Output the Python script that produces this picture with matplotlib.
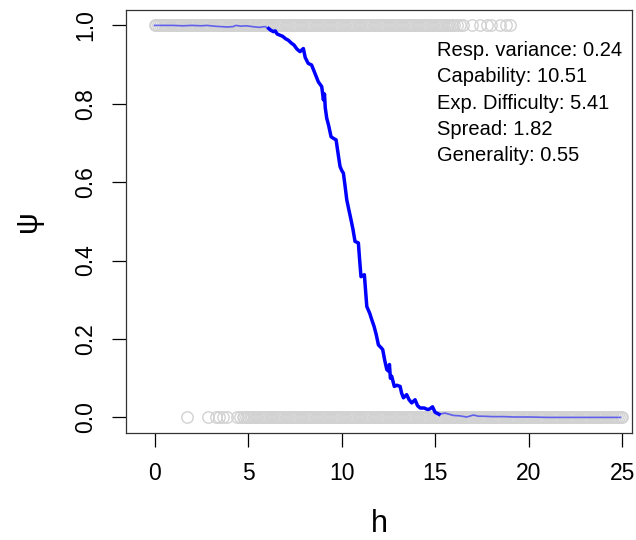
import matplotlib
matplotlib.use('Agg')
import matplotlib.pyplot as plt

plt.rcParams['font.family'] = ['Liberation Sans', 'DejaVu Sans']

# smoothed response curve
curve_x = [0.0, 0.5, 1.0, 1.5, 2.0, 2.5, 2.8, 3.2, 3.5, 3.9, 4.2, 4.35, 4.6, 4.9, 5.2, 5.6, 5.9, 6.1,
           6.2, 6.35, 6.45, 6.55, 6.7, 6.85, 7.0, 7.15, 7.33, 7.45, 7.6, 7.77, 7.95, 8.05, 8.21, 8.39,
           8.55, 8.75, 8.93, 8.97, 9.02, 9.08, 9.12, 9.2, 9.3, 9.43, 9.55, 9.7, 9.8, 9.91, 10.0, 10.09,
           10.18, 10.27, 10.38, 10.48, 10.6, 10.71, 10.89, 10.96, 11.03, 11.21, 11.28, 11.34, 11.5, 11.6,
           11.73, 11.85, 11.96, 12.1, 12.19, 12.3, 12.41, 12.5, 12.55, 12.6, 12.67, 12.81, 12.95, 13.12,
           13.2, 13.3, 13.47, 13.6, 13.74, 13.92, 14.05, 14.19, 14.4, 14.6, 14.72, 14.85, 14.99,
           15.2, 15.52, 15.97, 16.3, 16.68, 17.04, 17.3, 17.57, 18.0, 18.64, 19.2, 20.0, 21.0, 22.0,
           23.0, 24.0, 24.9]
curve_y = [1.0, 1.0, 1.0, 0.999, 1.0, 0.999, 1.0, 0.998, 0.997, 0.996, 0.997, 1.0, 0.998, 0.999, 0.997,
           0.995, 0.997, 0.992,
           0.988, 0.984, 0.986, 0.978, 0.975, 0.972, 0.966, 0.962, 0.954, 0.95, 0.94, 0.933, 0.941, 0.918,
           0.903, 0.899, 0.88, 0.856, 0.844, 0.83, 0.81, 0.825, 0.79, 0.763, 0.745, 0.716, 0.712, 0.708,
           0.675, 0.64, 0.63, 0.623, 0.59, 0.555, 0.53, 0.508, 0.48, 0.449, 0.445, 0.4, 0.359, 0.364,
           0.32, 0.283, 0.265, 0.25, 0.232, 0.21, 0.185, 0.178, 0.173, 0.145, 0.122, 0.118, 0.135, 0.1,
           0.105, 0.079, 0.082, 0.079, 0.062, 0.05, 0.058, 0.045, 0.037, 0.045, 0.03, 0.024, 0.024, 0.02,
           0.022, 0.027, 0.013,
           0.008, 0.011, 0.005, 0.004, 0.001, 0.006, 0.003, 0.003, 0.002, 0.002, 0.001, 0.001, 0.0, 0.0,
           0.0, 0.0, 0.0]
thick_from, thick_to = 17, 91  # index range drawn with the heavy line

# observed items: h of the successes (psi = 1) and failures (psi = 0)
h_ones = [0.0, 0.1, 0.2, 0.3, 0.4, 0.5, 0.6, 0.7, 0.8, 0.9,
          1.0, 1.1, 1.2, 1.3, 1.4, 1.5, 1.6, 1.7, 1.8, 1.9,
          2.0, 2.1, 2.2, 2.3, 2.4, 2.5, 2.6, 2.7, 2.8, 2.9,
          3.0, 3.1, 3.2, 3.3, 3.4, 3.5, 3.6, 3.7, 3.8, 3.9,
          4.0, 4.1, 4.2, 4.3, 4.4, 4.5, 4.6, 4.7, 4.8, 4.9,
          5.0, 5.1, 5.2, 5.3, 5.4, 5.5, 5.6, 5.7, 5.8, 5.9,
          6.0, 6.1, 6.2, 6.3, 6.4, 6.5, 6.6, 6.7, 6.8, 6.9,
          7.0, 7.1, 7.2, 7.3, 7.4, 7.5, 7.6, 7.7, 7.8, 7.9,
          8.0, 8.1, 8.2, 8.3, 8.4, 8.5, 8.6, 8.7, 8.8, 8.9,
          9.0, 9.1, 9.2, 9.3, 9.4, 9.5, 9.6, 9.7, 9.8, 9.9,
          10.0, 10.1, 10.2, 10.3, 10.4, 10.5, 10.6, 10.7, 10.8, 10.9,
          11.0, 11.1, 11.2, 11.3, 11.4, 11.5, 11.6, 11.7, 11.8, 11.9,
          12.0, 12.1, 12.2, 12.3, 12.4, 12.5, 12.6, 12.7, 12.8, 12.9,
          13.0, 13.1, 13.2, 13.3, 13.4, 13.5, 13.6, 13.7, 13.8, 13.9,
          14.0, 14.1, 14.2, 14.3, 14.4, 14.5, 14.6, 14.7, 14.8, 14.9,
          15.0, 15.1, 15.2, 15.3, 15.4, 15.5, 15.6, 15.7, 15.8, 15.9,
          16.0, 16.15, 16.3,
          16.5, 16.95, 17.4, 17.75, 18.0, 18.46, 18.8, 19.0]
h_zeros = [1.71, 2.83, 3.26, 3.44, 3.67, 3.88, 4.38, 4.56,
           4.7, 4.8, 4.9,
           5.0, 5.1, 5.2, 5.3, 5.4, 5.5, 5.6, 5.7, 5.8, 5.9,
           6.0, 6.1, 6.2, 6.3, 6.4, 6.5, 6.6, 6.7, 6.8, 6.9,
           7.0, 7.1, 7.2, 7.3, 7.4, 7.5, 7.6, 7.7, 7.8, 7.9,
           8.0, 8.1, 8.2, 8.3, 8.4, 8.5, 8.6, 8.7, 8.8, 8.9,
           9.0, 9.1, 9.2, 9.3, 9.4, 9.5, 9.6, 9.7, 9.8, 9.9,
           10.0, 10.1, 10.2, 10.3, 10.4, 10.5, 10.6, 10.7, 10.8, 10.9,
           11.0, 11.1, 11.2, 11.3, 11.4, 11.5, 11.6, 11.7, 11.8, 11.9,
           12.0, 12.1, 12.2, 12.3, 12.4, 12.5, 12.6, 12.7, 12.8, 12.9,
           13.0, 13.1, 13.2, 13.3, 13.4, 13.5, 13.6, 13.7, 13.8, 13.9,
           14.0, 14.1, 14.2, 14.3, 14.4, 14.5, 14.6, 14.7, 14.8, 14.9,
           15.0, 15.1, 15.2, 15.3, 15.4, 15.5, 15.6, 15.7, 15.8, 15.9,
           16.0, 16.1, 16.2, 16.3, 16.4, 16.5, 16.6, 16.7, 16.8, 16.9,
           17.0, 17.1, 17.2, 17.3, 17.4, 17.5, 17.6, 17.7, 17.8, 17.9,
           18.0, 18.1, 18.2, 18.3, 18.4, 18.5, 18.6, 18.7, 18.8, 18.9,
           19.0, 19.1, 19.2, 19.3, 19.4, 19.5, 19.6, 19.7, 19.8, 19.9,
           20.0, 20.1, 20.2, 20.3, 20.4, 20.5, 20.6, 20.7, 20.8, 20.9,
           21.0, 21.1, 21.2, 21.3, 21.4, 21.5, 21.6, 21.7, 21.8, 21.9,
           22.0, 22.1, 22.2, 22.3, 22.4, 22.5, 22.6, 22.7, 22.8, 22.9,
           23.0, 23.1, 23.2, 23.3, 23.4, 23.5, 23.6, 23.7, 23.8, 23.9,
           24.0, 24.1, 24.2, 24.3, 24.4, 24.5, 24.6, 24.7, 24.8, 24.9, 25.0]

stats = ['Resp. variance: 0.24', 'Capability: 10.51', 'Exp. Difficulty: 5.41',
         'Spread: 1.82', 'Generality: 0.55']

fig = plt.figure(figsize=(6.36, 5.4), dpi=100)
ax = fig.add_axes([0.198, 0.198, 0.796, 0.784])

ax.plot(h_ones, [1] * len(h_ones), 'o', mfc='none', mec='#d2d2d2', ms=8.2, mew=1.0, zorder=1)
ax.plot(h_zeros, [0] * len(h_zeros), 'o', mfc='none', mec='#d2d2d2', ms=8.2, mew=1.0, zorder=1)

ax.plot(curve_x[:thick_from + 1], curve_y[:thick_from + 1], color='blue', lw=1.2, alpha=0.55, zorder=2)
ax.plot(curve_x[thick_to:], curve_y[thick_to:], color='blue', lw=1.2, alpha=0.55, zorder=2)
ax.plot(curve_x[thick_from:thick_to + 1], curve_y[thick_from:thick_to + 1], color='blue', lw=2.5, zorder=3)

for i, s in enumerate(stats):
    ax.text(15.1, 0.935 - i * 0.0665, s, fontsize=14.5, va='center', ha='left')

ax.set_xlim(-1.53, 25.52)
ax.set_ylim(-0.04, 1.04)
ax.set_xticks([0, 5, 10, 15, 20, 25])
ax.set_yticks([0.0, 0.2, 0.4, 0.6, 0.8, 1.0])
ax.set_yticklabels(['0.0', '0.2', '0.4', '0.6', '0.8', '1.0'], rotation=90, va='center')
ax.tick_params(labelsize=16.5, length=10, width=0.9, pad=11)
for sp in ax.spines.values():
    sp.set_linewidth(0.9)
    sp.set_color('#333333')

ax.set_xlabel('h', fontsize=22, labelpad=17)
ax.set_ylabel('ψ', fontsize=22, labelpad=22)

fig.savefig('out.png', dpi=100)
